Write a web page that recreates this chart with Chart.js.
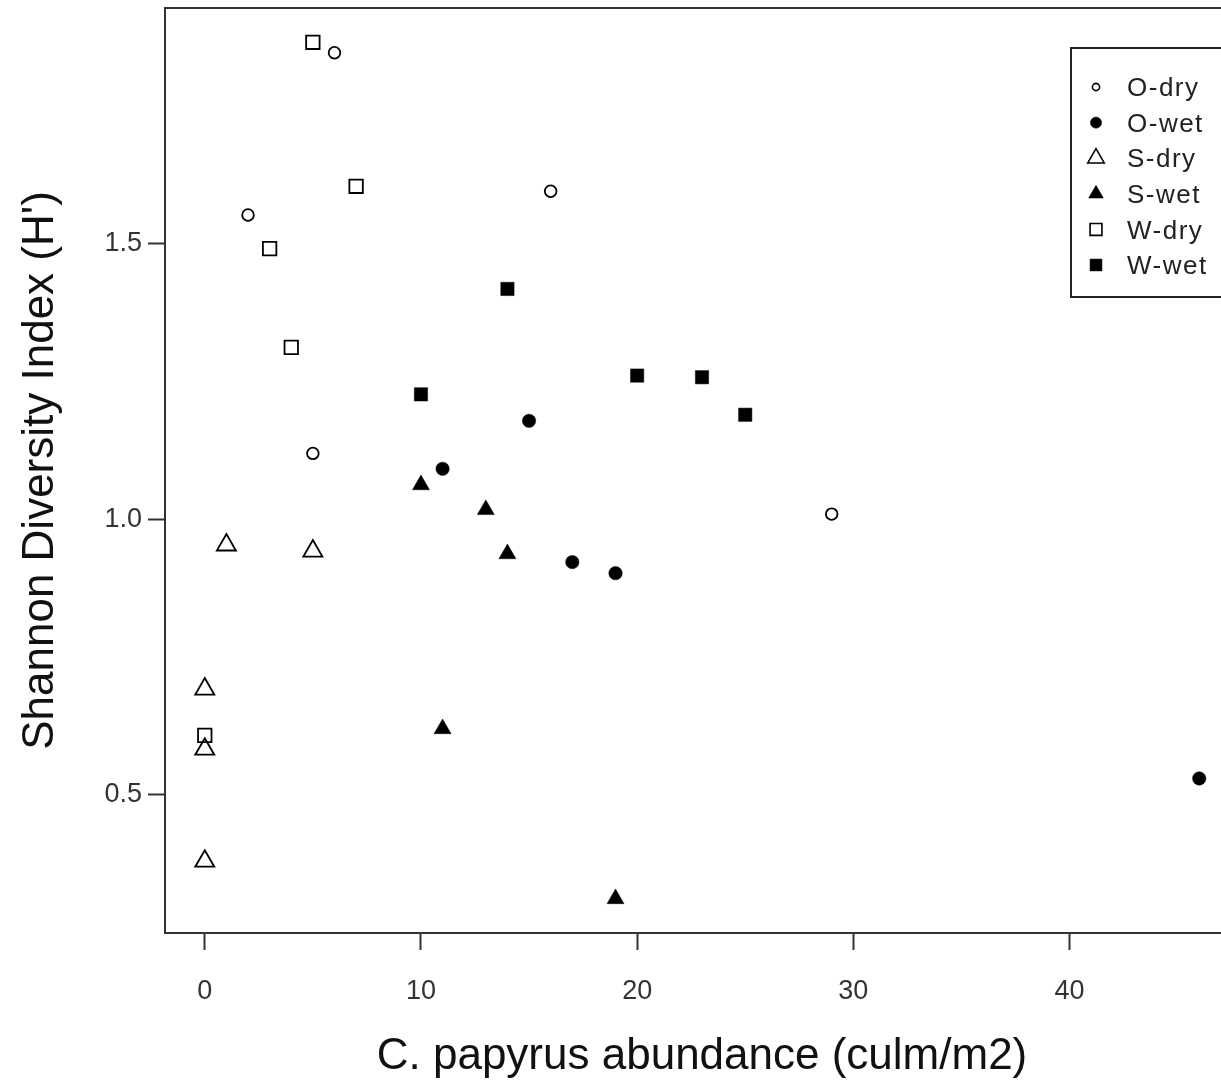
<!DOCTYPE html>
<html><head><meta charset="utf-8">
<script src="https://cdn.jsdelivr.net/npm/chart.js@4.4.1/dist/chart.umd.min.js"></script>
<style>
html,body{margin:0;padding:0;background:#fff;overflow:hidden;width:1221px;height:1081px}
#wrap{position:absolute;left:0;top:0;width:1241px;height:1081px}
</style>
</head><body><div id="wrap"><canvas id="c" width="1241" height="1081"></canvas></div>
<script>
// ---- data ----
const seriesNames = ['O-dry','O-wet','S-dry','S-wet','W-dry','W-wet'];
const oDryX = [6, 2, 16, 5, 29];
const oDryY = [1.845, 1.551, 1.594, 1.119, 1.009];
const oWetX = [11, 15, 17, 19, 46];
const oWetY = [1.091, 1.178, 0.922, 0.902, 0.530];
const sDryX = [1, 5, 0, 0, 0];
const sDryY = [0.953, 0.942, 0.692, 0.583, 0.380];
const sWetX = [10, 13, 14, 11, 19];
const sWetY = [1.062, 1.017, 0.937, 0.620, 0.312];
const wDryX = [5, 7, 3, 4, 0];
const wDryY = [1.864, 1.603, 1.490, 1.311, 0.608];
const wWetX = [14, 10, 20, 23, 25];
const wWetY = [1.417, 1.226, 1.260, 1.257, 1.189];
const xTicks = [0, 10, 20, 30, 40];
const yTicks = [0.5, 1.0, 1.5];
const xTitle = 'C. papyrus abundance (culm/m2)';
const yTitle = "Shannon Diversity Index (H')";

const allX = [].concat(oDryX,oWetX,sDryX,sWetX,wDryX,wWetX);
const allY = [].concat(oDryY,oWetY,sDryY,sWetY,wDryY,wWetY);
function padRange(a){const mn=Math.min(...a),mx=Math.max(...a),d=(mx-mn)*0.04;return [mn-d,mx+d];}
const xr = padRange(allX), yr = padRange(allY);

const FONT = "'Liberation Sans', Arial, sans-serif";
const styles = {
  'O-dry': {ps:'circle', filled:false, r:5.8, lr:3.6},
  'O-wet': {ps:'circle', filled:true,  r:6.7, lr:5.6},
  'S-dry': {ps:'triangle', filled:false, r:11, lr:9.5},
  'S-wet': {ps:'triangle', filled:true,  r:9.8, lr:8.5},
  'W-dry': {ps:'rect', filled:false, r:9.5, lr:8.4},
  'W-wet': {ps:'rect', filled:true,  r:9.4, lr:8.4}
};
function mk(label, xs, ys){
  const s = styles[label];
  return {
    label,
    data: xs.map((x,i)=>({x, y: ys[i]})),
    showLine:false,
    pointStyle:s.ps,
    pointRadius:s.r, pointHoverRadius:s.r,
    backgroundColor: s.filled ? '#000' : 'rgba(0,0,0,0)',
    borderColor:'#000',
    pointBorderWidth: s.filled ? 0.5 : 1.8,
    borderWidth: s.filled ? 0.5 : 1.8,
    clip: false
  };
}

const boxPlugin = {
  id:'box',
  beforeDatasetsDraw(chart){
    const {ctx, chartArea:a} = chart;
    ctx.save();
    ctx.strokeStyle='#333'; ctx.lineWidth=2;
    ctx.strokeRect(a.left, a.top, a.right-a.left, a.bottom-a.top);
    ctx.restore();
  }
};

function drawSym(ctx, ps, r, x, y){
  if (Chart.helpers && Chart.helpers.drawPoint) {
    Chart.helpers.drawPoint(ctx, {pointStyle:ps, rotation:0, radius:r, borderWidth:ctx.lineWidth}, x, y);
    return;
  }
  ctx.beginPath();
  if (ps==='circle') ctx.arc(x,y,r,0,Math.PI*2);
  else if (ps==='rect'){const s=r*Math.SQRT1_2;ctx.rect(x-s,y-s,2*s,2*s);}
  else {ctx.moveTo(x,y-r);ctx.lineTo(x+0.866*r,y+r/2);ctx.lineTo(x-0.866*r,y+r/2);ctx.closePath();}
  ctx.fill(); ctx.stroke();
}

const legendPlugin = {
  id:'rlegend',
  afterDraw(chart){
    const ctx = chart.ctx;
    ctx.save();
    const bx=1071, by=48, bw=200, bh=249;
    ctx.fillStyle='#fff'; ctx.fillRect(bx,by,bw,bh);
    ctx.strokeStyle='#222'; ctx.lineWidth=2; ctx.strokeRect(bx,by,bw,bh);
    seriesNames.forEach((n,i)=>{
      const s = styles[n];
      const y = 87 + i*35.6;
      ctx.fillStyle = s.filled ? '#000' : 'rgba(0,0,0,0)';
      ctx.strokeStyle = '#000';
      ctx.lineWidth = s.filled ? 0.5 : 1.6;
      drawSym(ctx, s.ps, s.lr, 1096, y);
      ctx.fillStyle='#222';
      ctx.font = '26px ' + FONT;
      try { ctx.letterSpacing = '1.5px'; } catch(e) {}
      ctx.textBaseline='middle'; ctx.textAlign='left';
      ctx.fillText(n, 1127, y+2);
      try { ctx.letterSpacing = '0px'; } catch(e) {}
    });
    ctx.restore();
  }
};

new Chart(document.getElementById('c'), {
  type:'scatter',
  data:{datasets:[
    mk('O-dry', oDryX, oDryY),
    mk('O-wet', oWetX, oWetY),
    mk('S-dry', sDryX, sDryY),
    mk('S-wet', sWetX, sWetY),
    mk('W-dry', wDryX, wDryY),
    mk('W-wet', wWetX, wWetY)
  ]},
  options:{
    responsive:false, animation:false, devicePixelRatio:1,
    layout:{autoPadding:false, padding:{top:8,right:2,left:1,bottom:0}},
    plugins:{legend:{display:false}, tooltip:{enabled:false}},
    scales:{
      x:{
        type:'linear', position:'bottom', min:xr[0], max:xr[1],
        afterFit(s){ s.height = 148; s.paddingLeft = 0; s.paddingRight = 0; s.paddingTop = 0; s.paddingBottom = 0; },
        afterBuildTicks(s){ s.ticks = xTicks.map(v=>({value:v})); },
        grid:{drawOnChartArea:false, drawTicks:true, tickLength:17, tickColor:'#333', tickWidth:2},
        border:{display:false},
        ticks:{padding:25, color:'#333', font:{family:FONT, size:27}, maxRotation:0, autoSkip:false,
               callback:(v)=>String(v)},
        title:{display:true, text:xTitle, color:'#111', font:{family:FONT, size:44, lineHeight:1}, padding:{top:0,bottom:2}}
      },
      y:{
        type:'linear', position:'left', min:yr[0], max:yr[1],
        afterFit(s){ s.width = 164; s.paddingLeft = 0; s.paddingRight = 0; s.paddingTop = 0; s.paddingBottom = 0; },
        afterBuildTicks(s){ s.ticks = yTicks.map(v=>({value:v})); },
        grid:{drawOnChartArea:false, drawTicks:true, tickLength:17, tickColor:'#333', tickWidth:2},
        border:{display:false},
        ticks:{padding:6, color:'#333', font:{family:FONT, size:27}, autoSkip:false,
               callback:(v)=>Number(v).toFixed(1)},
        title:{display:true, text:yTitle, color:'#111', font:{family:FONT, size:44, lineHeight:1}, padding:{top:18,bottom:0}}
      }
    }
  },
  plugins:[boxPlugin, legendPlugin]
});
</script>
</body></html>
